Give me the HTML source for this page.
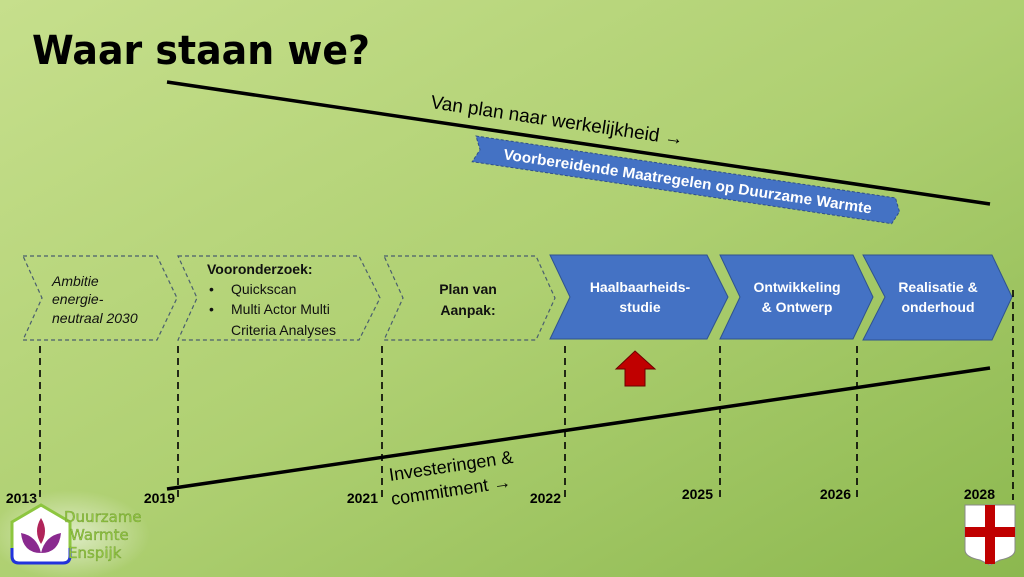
<!DOCTYPE html>
<html><head><meta charset="utf-8"><style>
html,body{margin:0;padding:0;width:1024px;height:577px;overflow:hidden}
svg{display:block}
</style></head><body>
<svg width="1024" height="577" viewBox="0 0 1024 577" xmlns="http://www.w3.org/2000/svg" font-family="'Liberation Sans', 'DejaVu Sans', sans-serif">
<defs>
<linearGradient id="bg" x1="0" y1="0" x2="1" y2="1">
<stop offset="0" stop-color="#c6df8c"/>
<stop offset="0.5" stop-color="#afd072"/>
<stop offset="1" stop-color="#8cb84f"/>
</linearGradient>
<radialGradient id="glow" cx="0.5" cy="0.5" r="0.5">
<stop offset="0" stop-color="#ffffff" stop-opacity="0.6"/>
<stop offset="1" stop-color="#ffffff" stop-opacity="0"/>
</radialGradient>
</defs>
<rect width="1024" height="577" fill="url(#bg)"/>

<text x="32" y="64" font-family="'DejaVu Sans', sans-serif" font-weight="bold" font-size="40" textLength="338" lengthAdjust="spacingAndGlyphs" fill="#000">Waar staan we?</text>

<!-- top line -->
<line x1="167" y1="82" x2="990" y2="204" stroke="#000" stroke-width="3.5"/>
<text transform="translate(430,108) rotate(8.4)" font-size="19" fill="#000">Van plan naar werkelijkheid →</text>

<!-- banner -->
<g transform="translate(476,136) rotate(8.4)">
<polygon points="0,0 424,0 430,13 424,26 0,26 6,13" fill="#4472c4" stroke="#2f4f8a" stroke-width="1" stroke-dasharray="3,2"/>
<text x="30" y="19" font-size="15" font-weight="bold" fill="#fff" textLength="372" lengthAdjust="spacingAndGlyphs">Voorbereidende Maatregelen op Duurzame Warmte</text>
</g>

<!-- dashed chevrons -->
<g fill="none" stroke="#4a5e6e" stroke-width="1.2" stroke-dasharray="4,3">
<polygon points="23,256 157,256 177,298 157,340 23,340 42,298"/>
<polygon points="178,256 359,256 380,298 359,340 178,340 197,298"/>
<polygon points="384,256 536,256 555,298 536,340 384,340 403,298"/>
</g>
<g font-size="14" fill="#111">
<text font-style="italic" x="52" y="286">Ambitie</text>
<text font-style="italic" x="52" y="304">energie-</text>
<text font-style="italic" x="52" y="323">neutraal 2030</text>
<text font-weight="bold" x="207" y="274">Vooronderzoek:</text>
<text x="209" y="294">•</text><text x="231" y="294">Quickscan</text>
<text x="209" y="314">•</text><text x="231" y="314">Multi Actor Multi</text>
<text x="231" y="335">Criteria Analyses</text>
<text font-weight="bold" x="468" y="294" text-anchor="middle">Plan van</text>
<text font-weight="bold" x="468" y="315" text-anchor="middle">Aanpak:</text>
</g>

<!-- blue chevrons -->
<g fill="#4472c4" stroke="#2f528f" stroke-width="1">
<polygon points="550,255 707,255 728,297 707,339 550,339 570,297"/>
<polygon points="720,255 853,255 873,297 853,339 720,339 740,297"/>
<polygon points="863,255 992,255 1012,297 992,340 863,340 885,297"/>
</g>
<g font-size="14" font-weight="bold" fill="#fff" text-anchor="middle">
<text x="640" y="292">Haalbaarheids-</text><text x="640" y="312">studie</text>
<text x="797" y="292">Ontwikkeling</text><text x="797" y="312">&amp; Ontwerp</text>
<text x="938" y="292">Realisatie &amp;</text><text x="938" y="312">onderhoud</text>
</g>

<!-- dashed verticals -->
<g stroke="#000" stroke-width="1.6" stroke-dasharray="7,5">
<line x1="40" y1="346" x2="40" y2="500"/>
<line x1="178" y1="346" x2="178" y2="500"/>
<line x1="382" y1="346" x2="382" y2="500"/>
<line x1="565" y1="346" x2="565" y2="500"/>
<line x1="720" y1="346" x2="720" y2="500"/>
<line x1="857" y1="346" x2="857" y2="500"/>
<line x1="1013" y1="290" x2="1013" y2="500"/>
</g>

<!-- bottom line -->
<line x1="167" y1="489" x2="990" y2="368" stroke="#000" stroke-width="3.5"/>
<text transform="translate(390,481) rotate(-8.4)" font-size="18" fill="#000">Investeringen &amp;</text>
<text transform="translate(392,505) rotate(-8.4)" font-size="18" fill="#000">commitment →</text>

<!-- red arrow -->
<polygon points="635,351 655,369 645,369 645,386 625,386 625,369 616,369" fill="#c00000" stroke="#6b0000" stroke-width="1"/>

<!-- years -->
<g font-size="14" font-weight="bold" fill="#000" text-anchor="end">
<text x="37" y="503">2013</text>
<text x="175" y="503">2019</text>
<text x="378" y="503">2021</text>
<text x="561" y="503">2022</text>
<text x="713" y="499">2025</text>
<text x="851" y="499">2026</text>
<text x="995" y="499">2028</text>
</g>

<!-- logo -->
<ellipse cx="70" cy="535" rx="80" ry="45" fill="url(#glow)"/>
<path d="M12,522 L41,505 L70,522 L70,556 Q70,563 63,563 L19,563 Q12,563 12,556 Z" fill="#fff" stroke="#8dc63f" stroke-width="3"/>
<path d="M12,548 L12,556 Q12,563 19,563 L63,563 Q70,563 70,556 L70,548" fill="none" stroke="#2233dd" stroke-width="3"/>
<path d="M41,518 Q33,531 41,544 Q49,531 41,518 Z" fill="#b0245a"/>
<path d="M41,553 Q23,553 21,533 Q37,536 41,553 Z" fill="#8a2a8f"/>
<path d="M41,553 Q59,553 61,533 Q45,536 41,553 Z" fill="#8a2a8f"/>
<g font-family="'DejaVu Sans', sans-serif" font-size="15" fill="#94c843" stroke="#5f8a22" stroke-width="0.3">
<text x="64" y="522">Duurzame</text>
<text x="70" y="540">Warmte</text>
<text x="68" y="558">Enspijk</text>
</g>

<!-- shield -->
<path d="M965,505 L1015,505 L1015,550 Q1015,557 1000,560 L990,565 L980,560 Q965,557 965,550 Z" fill="#fff" stroke="#888" stroke-width="1"/>
<rect x="985" y="505" width="10" height="59" fill="#c00000"/>
<rect x="965" y="527" width="50" height="10" fill="#c00000"/>
</svg>
</body></html>
